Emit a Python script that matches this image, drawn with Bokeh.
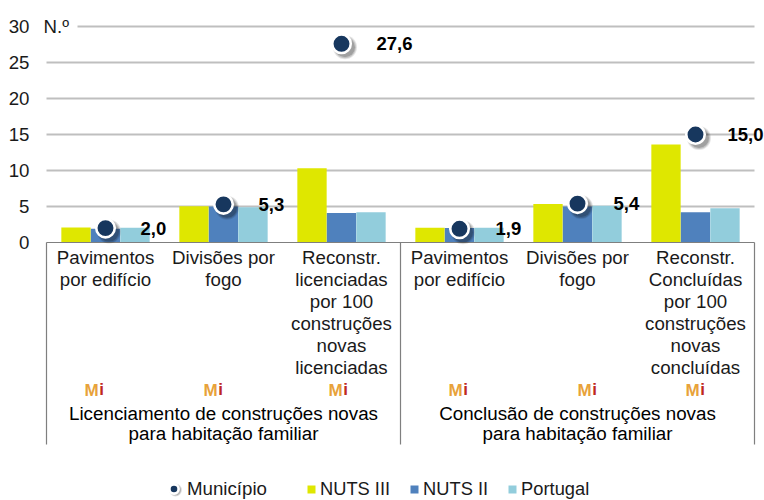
from bokeh.plotting import figure
from bokeh.models import FixedTicker, Range1d, Legend, LegendItem
from bokeh.embed import file_html
from bokeh.resources import INLINE
from bokeh.core.properties import value

categories = ["Pavimentos\npor edifício", "Divisões por\nfogo",
              "Reconstr.\nlicenciadas\npor 100\nconstruções\nnovas\nlicenciadas",
              "Pavimentos\npor edifício", "Divisões por\nfogo",
              "Reconstr.\nConcluídas\npor 100\nconstruções\nnovas\nconcluídas"]
municipio = [2.0, 5.3, 27.6, 1.9, 5.4, 15.0]
nuts3 = [2.1, 5.05, 10.3, 2.05, 5.35, 13.6]
nuts2 = [1.9, 5.0, 4.1, 2.0, 5.0, 4.2]
portugal = [2.05, 4.9, 4.2, 2.05, 5.1, 4.75]
value_labels = ["2,0", "5,3", "27,6", "1,9", "5,4", "15,0"]
groups = ["Licenciamento de construções novas\npara habitação familiar",
          "Conclusão de construções novas\npara habitação familiar"]
y_ticks = [0, 5, 10, 15, 20, 25, 30]

FONT = "Liberation Sans"
F = value(FONT)
YEL, BLU, TEA, NAV = "#DFE700", "#4F81BD", "#92CDDC", "#17375E"
GRID, BORDER = "#BFBFBF", "#7F7F7F"

PX_Y = 7.2      # pixels per y unit
PX_X = 118.0    # pixels per category
FRAME_L = 40
def yp(page_y):  # picture pixel -> y value
    return (242 - page_y) / PX_Y
def xp(page_x):
    return (page_x - 46) / PX_X

p = figure(width=764, height=500, output_backend="svg", toolbar_location=None,
           x_range=Range1d(xp(FRAME_L), xp(764)), y_range=Range1d(yp(500), yp(0)),
           min_border_left=FRAME_L, min_border_right=0, min_border_top=0, min_border_bottom=0,
           x_axis_location=None, outline_line_color=None)
p.grid.visible = False
p.yaxis.ticker = FixedTicker(ticks=y_ticks)
p.yaxis.axis_line_color = None
p.yaxis.major_tick_line_color = None
p.yaxis.minor_tick_line_color = None
p.yaxis.major_label_text_font = FONT
p.yaxis.major_label_text_font_size = "18.7px"
p.yaxis.major_label_text_color = "#1a1a1a"
p.yaxis.major_label_standoff = 5

n = len(categories)
centers = [i + 0.5 for i in range(n)]

# grid lines (30 line starts after the "N.º" label)
starts = [xp(77) if t == 30 else 0 for t in y_ticks[1:]]
p.segment(x0=starts, x1=[n] * len(starts), y0=y_ticks[1:], y1=y_ticks[1:],
          line_color=GRID, line_width=2.2)

# bars
BW = 0.2485
r3 = p.vbar(x=[c - 0.25 for c in centers], top=nuts3, width=BW, bottom=0, fill_color=YEL, line_color=None)
r2 = p.vbar(x=centers, top=nuts2, width=BW, bottom=0, fill_color=BLU, line_color=None)
rp = p.vbar(x=[c + 0.25 for c in centers], top=portugal, width=BW, bottom=0, fill_color=TEA, line_color=None)

# category box lines
p.segment(x0=[0], x1=[n], y0=[0], y1=[0], line_color=BORDER, line_width=1.2)
p.segment(x0=[0, n / 2, n], x1=[0, n / 2, n], y0=[0] * 3, y1=[yp(444)] * 3,
          line_color=BORDER, line_width=1.2)

# marker shadows
for off, size, alpha in [(3.5, 24, 0.10), (3.5, 22, 0.14), (3.5, 20, 0.18)]:
    p.scatter([c + off / PX_X for c in centers], [m - off / PX_Y for m in municipio],
              size=size, fill_color="#000000", fill_alpha=alpha, line_color=None)
rm = p.scatter(centers, municipio, size=18.5, fill_color=NAV, line_color="white", line_width=2.6)

# value labels
p.text(centers, municipio, text=value_labels, text_font=F, text_font_style="bold",
       text_font_size="18.5px", text_color="#000000", text_baseline="middle",
       x_offset=[35, 35, 35, 36, 36, 32])

# category labels
p.text(centers, [yp(246.5)] * n, text=categories, text_font=F, text_font_size="18.7px",
       text_color="#1a1a1a", text_align="center", text_baseline="top", text_line_height=1.045)

# group labels
p.text([n / 4, 3 * n / 4], [yp(402)] * 2, text=groups, text_font=F, text_font_size="18.8px",
       text_color="#000000", text_align="center", text_baseline="top", text_line_height=0.96)

# "N.º"
p.text([xp(43)], [30], text=["N.º"], text_font=F, text_font_size="18.7px", text_color="#1a1a1a",
       text_baseline="middle")

# Mi icons
icon_x = [xp(v) for v in (91, 210, 335, 455, 584, 692)]
p.text(icon_x, [yp(390)] * 6, text=["M"] * 6, text_font=F, text_font_style="bold", text_font_size="17px",
       text_color="#E8A23A", text_align="center", text_baseline="middle")
p.text([x + 10 / PX_X for x in icon_x], [yp(389)] * 6, text=["i"] * 6, text_font=F, text_font_style="bold",
       text_font_size="17px", text_color="#C0281E", text_align="center", text_baseline="middle")

# legend marker shadow
for size, alpha in [(13, 0.12), (11, 0.2)]:
    p.scatter([xp(175)], [yp(489.5)], size=size, fill_color="#000000", fill_alpha=alpha, line_color=None)

# legends
def leg(items, x, y, gw, gh, standoff, fs):
    l = Legend(items=items, orientation="horizontal", location=(x, y), border_line_color=None,
               background_fill_alpha=0, label_text_font=FONT, label_text_font_size=fs,
               label_text_color="#1a1a1a", glyph_width=gw, glyph_height=gh, label_standoff=standoff,
               spacing=19, padding=0, margin=0)
    p.add_layout(l, "center")
leg([LegendItem(label="Município", renderers=[rm])], 122, 0, 23, 23, 2, "18.7px")
leg([LegendItem(label="NUTS III", renderers=[r3]),
     LegendItem(label="NUTS II", renderers=[r2]),
     LegendItem(label="Portugal", renderers=[rp])], 266, 0.5, 10, 10, 4, "18.3px")

open("out.html", "w").write(file_html(p, INLINE))
